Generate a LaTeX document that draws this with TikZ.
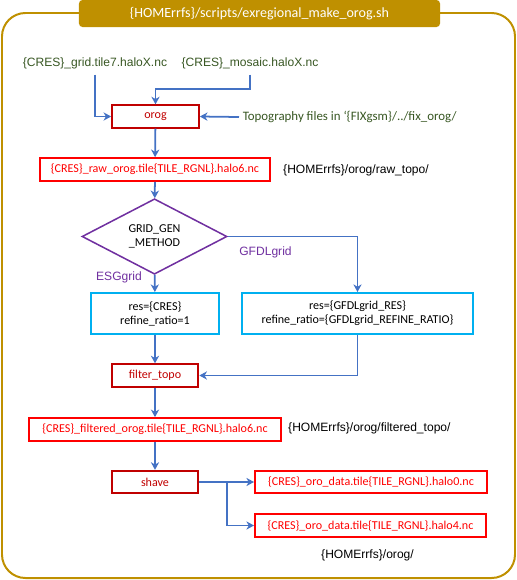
\documentclass[tikz,border=0pt]{standalone}
\usepackage{fontspec}
\setmainfont{Carlito}
\newfontfamily\arialfont{Liberation Sans}
\usetikzlibrary{shapes,arrows.meta,positioning}

\definecolor{gold}{HTML}{BF9000}
\definecolor{dunkelrot}{HTML}{C00000}
\definecolor{hellrot}{HTML}{FF0000}
\definecolor{cyanblau}{HTML}{00B0F0}
\definecolor{lila}{HTML}{7030A0}
\definecolor{pfeilblau}{HTML}{4472C4}
\definecolor{dunkelgruen}{HTML}{385723}

\tikzset{
  schrift/.style={font=\fontsize{10.3}{12}\selectfont},
  arial/.style={font=\arialfont\fontsize{10.3}{12}\selectfont},
  programm/.style={schrift, draw=dunkelrot, text=dunkelrot, line width=1.7pt, inner sep=0pt, minimum width=2.6cm, minimum height=0.67cm},
  ausgabe/.style={schrift, draw=hellrot, text=hellrot, line width=1.7pt, inner sep=0pt, minimum height=0.68cm},
  parameter/.style={schrift, draw=cyanblau, line width=1.7pt, inner sep=0pt, minimum height=1.23cm, align=center},
  eingabe/.style={arial, text=dunkelgruen, inner sep=5pt},
  pfad/.style={arial, inner sep=0pt},
  zweig/.style={arial, text=lila, inner sep=0pt},
  pfeil/.style={draw=pfeilblau, line width=1.5pt, -{Stealth[length=6.5pt,width=7pt,inset=2pt]}}
}

\begin{document}
\begin{tikzpicture}[x=0.03cm, y=-0.03cm]
\useasboundingbox (0,0) rectangle (517,580);
%Rahmen
\draw[gold, line width=1.7pt, rounded corners=20] (2,13) rectangle (515,578);
\node[fill=gold, text=white, rounded corners=3, inner sep=0pt, minimum width=10.83cm, minimum height=0.81cm, font=\fontsize{12}{14}\selectfont] (titel) at (259.5,13.5) {\{HOMErrfs\}/scripts/exregional\_make\_orog.sh};

%Eingaben
\node[eingabe] (gridin) at (95,63) {\{CRES\}\_grid.tile7.haloX.nc};
\node[eingabe] (mosaic) at (250,63) {\{CRES\}\_mosaic.haloX.nc};
\node[programm] (orog) at (155.5,116.5) {orog};
\node[eingabe, font=\fontsize{11}{13}\selectfont, anchor=west, inner sep=3pt] (topo) at (239,117) {Topography files in ‘\{FIXgsm\}/../fix\_orog/};

\draw[pfeil] (gridin) |- (orog);
\draw[pfeil] (mosaic.south) -- ++(0,14) -| (orog.north);
\draw[pfeil] (topo.west) -- (orog.east);

%Rohdaten
\node[ausgabe, minimum width=6.9cm] (raw) at (155,169.5) {\{CRES\}\_raw\_orog.tile\{TILE\_RGNL\}.halo6.nc};
\node[pfad, anchor=west] (rawpfad) at (283,170) {\{HOMErrfs\}/orog/raw\_topo/};
\draw[pfeil] (orog) -- (raw);

%Verzweigung
\node[diamond, draw=lila, line width=1.3pt, inner sep=0pt, minimum width=4.35cm, minimum height=1.53cm, schrift, align=center] (methode) at (154.5,236.5) {GRID\_GEN\\\_METHOD};
\draw[pfeil] (raw) -- (methode);
\node[zweig] (esglabel) at (119,277) {ESGgrid};
\node[zweig] (gfdllabel) at (265.5,252) {GFDLgrid};

\node[parameter, minimum width=3.84cm] (esg) at (155,313.5) {res=\{CRES\}\\refine\_ratio=1};
\node[parameter, minimum width=6.93cm] (gfdl) at (357.5,313.5) {res=\{GFDLgrid\_RES\}\\refine\_ratio=\{GFDLgrid\_REFINE\_RATIO\}};
\draw[pfeil] (methode) -- (esg);
\draw[pfeil] (methode.east) -| (gfdl.north);

%Filter
\node[programm] (filter) at (155,375.5) {filter\_topo};
\draw[pfeil] (esg) -- (filter);
\draw[pfeil] (gfdl.south) |- (filter.east);

\node[ausgabe, minimum width=7.56cm] (filtered) at (155,429.5) {\{CRES\}\_filtered\_orog.tile\{TILE\_RGNL\}.halo6.nc};
\node[pfad, anchor=west] (filterpfad) at (288,428) {\{HOMErrfs\}/orog/filtered\_topo/};
\draw[pfeil] (filter) -- (filtered);

%Shave
\node[programm] (shave) at (155,482) {shave};
\draw[pfeil] (filtered) -- (shave);
\node[ausgabe, minimum width=6.96cm] (halo0) at (371,482) {\{CRES\}\_oro\_data.tile\{TILE\_RGNL\}.halo0.nc};
\node[ausgabe, minimum width=6.93cm] (halo4) at (370.5,525.5) {\{CRES\}\_oro\_data.tile\{TILE\_RGNL\}.halo4.nc};
\node[pfad] (orogpfad) at (367.5,555) {\{HOMErrfs\}/orog/};
\coordinate (abzw) at (227,482);
\draw[pfeil] (shave) -- (halo0);
\draw[pfeil] (abzw) |- (halo4.west);

\end{tikzpicture}
\end{document}
